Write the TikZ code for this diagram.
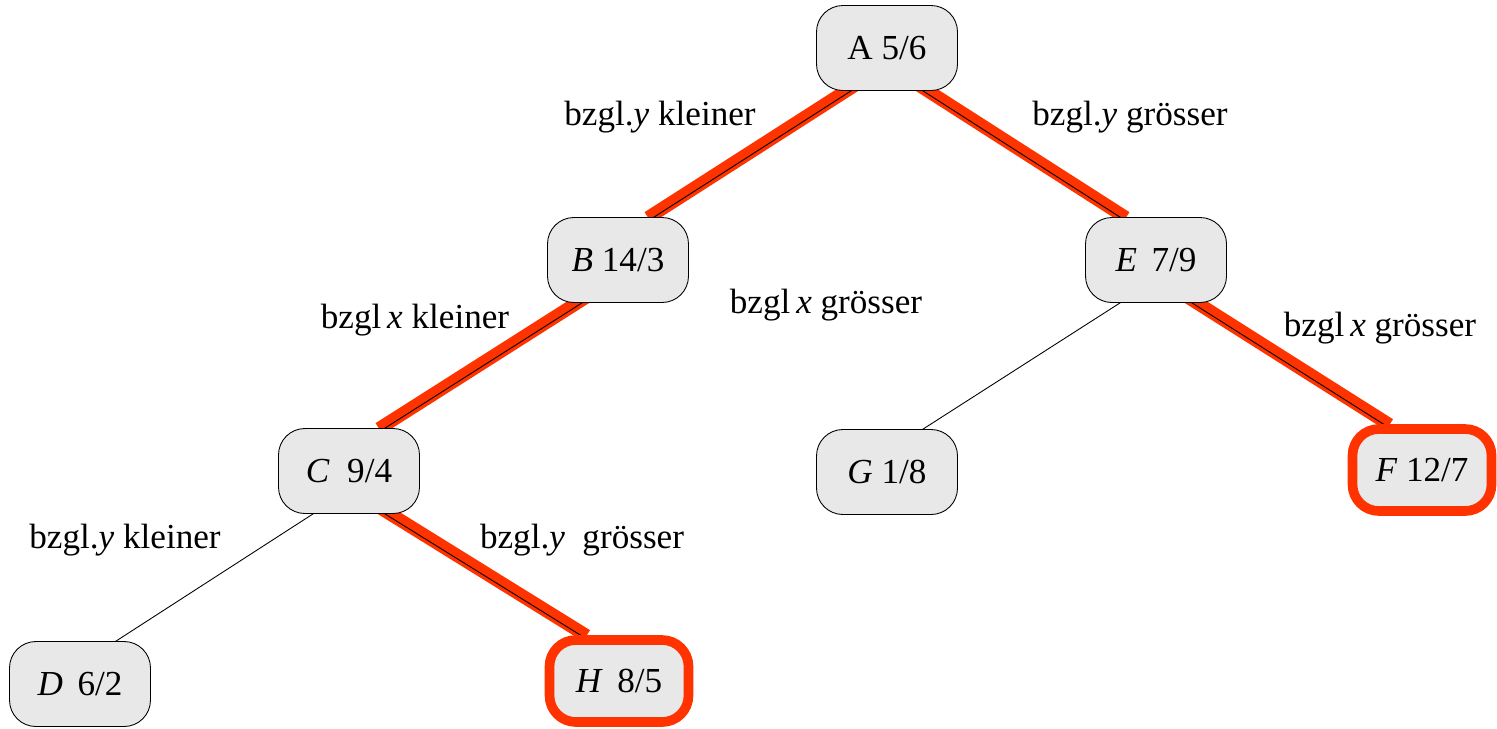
\documentclass[tikz,border=0pt]{standalone}
\usepackage{fontspec}
\setmainfont{Liberation Serif}
\newfontfamily\baumfont{Liberation Serif}
\usetikzlibrary{backgrounds}

\definecolor{hlred}{HTML}{FF3300}
\definecolor{boxgray}{HTML}{E8E8E8}

\tikzset{
  knoten/.style={draw, line width=0.5pt, fill=boxgray, rounded corners=15pt,
    minimum width=2.82cm, minimum height=1.7cm, font=\baumfont\fontsize{20}{24}\selectfont},
  treffer/.style={knoten, draw=hlred, line width=5.5pt,
    minimum width=2.78cm, minimum height=1.64cm},
  pfad/.style={draw=hlred, line width=7.5pt, shorten <=-4pt, shorten >=-4pt},
  ast/.style={line width=0.5pt, shorten <=-2pt, shorten >=-2pt},
  marke/.style={font=\baumfont\fontsize{20}{24}\selectfont}
}

\begin{document}
\begin{tikzpicture}[x=0.02cm, y=-0.02cm]
    \useasboundingbox (0,0) rectangle (1497,728);

    % Baum
    \node[knoten] (A) at (887,48) {A 5/6};
    \node[knoten] (B) at (618,260) {\textit{B} 14/3};
    \node[knoten] (E) at (1156,260) {\textit{E}\, 7/9};
    \node[knoten] (C) at (349,471) {\textit{C}\ \ 9/4};
    \node[knoten] (G) at (887,472) {\textit{G} 1/8};
    \node[treffer] (F) at (1422,470) {\textit{F} 12/7};
    \node[knoten] (D) at (80,684) {\textit{D}\, 6/2};
    \node[treffer] (H) at (619,681) {\textit{H}\, 8/5};

    % Kanten
    \begin{scope}[on background layer]
      \foreach \von/\nach in {A/B, B/C} {
        \draw[pfad] ([yshift=1.8pt]\von.230) -- ([yshift=1.8pt]\nach.50);
        \draw[ast] (\von.230) -- (\nach.50);
      }
      \foreach \von/\nach in {A/E, E/F, C/H} {
        \draw[pfad] ([yshift=1.8pt]\von.310) -- ([yshift=1.8pt]\nach.130);
        \draw[ast] (\von.310) -- (\nach.130);
      }
      \foreach \von/\nach in {E/G, C/D}
        \draw[ast] (\von.230) -- (\nach.50);
    \end{scope}

    % Beschriftungen
    \node[marke] (l1) at (660,117) {bzgl.\textit{y} kleiner};
    \node[marke] (l2) at (1130,117) {bzgl.\textit{y} grösser};
    \node[marke] (l3) at (415,320) {bzgl\,\textit{x} kleiner};
    \node[marke] (l4) at (826,305) {bzgl\,\textit{x} grösser};
    \node[marke] (l5) at (1380,328) {bzgl\,\textit{x} grösser};
    \node[marke] (l6) at (125,540) {bzgl.\textit{y} kleiner};
    \node[marke] (l7) at (582,540) {bzgl.\textit{y}\ \ grösser};
\end{tikzpicture}
\end{document}
